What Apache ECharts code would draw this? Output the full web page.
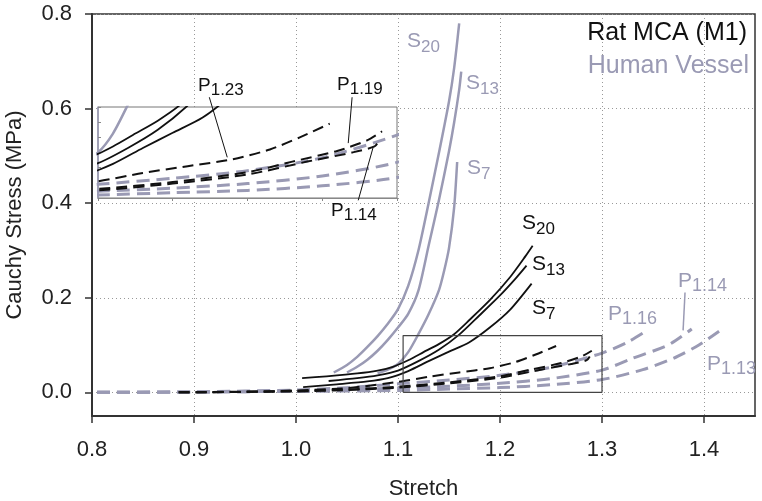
<!DOCTYPE html>
<html><head><meta charset="utf-8">
<script src="https://cdn.jsdelivr.net/npm/echarts@6/dist/echarts.min.js"></script>
<style>html,body{margin:0;padding:0;background:#fff}#c{width:762px;height:501px}</style>
</head><body><div id="c"></div>
<script>
// ---- Data (stretch, Cauchy stress MPa) ----
const humanS20 = [[1.037,0.042],[1.05,0.058],[1.06,0.075],[1.07,0.096],[1.08,0.119],[1.09,0.145],[1.1,0.176],[1.11,0.225],[1.12,0.300],[1.13,0.400],[1.14,0.505],[1.15,0.615],[1.155,0.685],[1.16,0.780]];
const humanS13 = [[1.050,0.042],[1.06,0.054],[1.07,0.069],[1.08,0.088],[1.09,0.111],[1.1,0.137],[1.11,0.166],[1.12,0.215],[1.13,0.310],[1.14,0.405],[1.15,0.510],[1.155,0.570],[1.16,0.640],[1.162,0.678]];
const humanS7  = [[1.080,0.040],[1.09,0.048],[1.1,0.060],[1.11,0.085],[1.12,0.123],[1.13,0.165],[1.14,0.215],[1.145,0.255],[1.15,0.305],[1.155,0.390],[1.158,0.487]];
const ratS20 = [[1.006,0.030],[1.03,0.034],[1.06,0.040],[1.08,0.046],[1.095,0.054],[1.11,0.068],[1.125,0.085],[1.14,0.102],[1.155,0.123],[1.17,0.153],[1.19,0.195],[1.21,0.244],[1.225,0.288],[1.232,0.310]];
const ratS13 = [[1.032,0.024],[1.06,0.030],[1.08,0.036],[1.1,0.046],[1.12,0.066],[1.14,0.090],[1.16,0.122],[1.18,0.163],[1.2,0.205],[1.215,0.240],[1.226,0.268]];
const ratS7  = [[1.007,0.011],[1.04,0.017],[1.07,0.023],[1.09,0.030],[1.11,0.045],[1.13,0.066],[1.15,0.086],[1.17,0.106],[1.19,0.137],[1.21,0.175],[1.231,0.230]];
const ratP123 = [[0.885,0.0],[0.95,0.001],[1.0,0.004],[1.05,0.009],[1.1,0.022],[1.13,0.033],[1.16,0.042],[1.19,0.051],[1.215,0.064],[1.235,0.080],[1.255,0.098]];
const ratP119 = [[0.885,0.0],[1.0,0.003],[1.05,0.006],[1.1,0.012],[1.15,0.021],[1.2,0.034],[1.23,0.048],[1.26,0.062],[1.28,0.076],[1.29,0.088]];
const ratP114 = [[0.885,0.0],[1.0,0.002],[1.05,0.005],[1.1,0.010],[1.15,0.019],[1.2,0.031],[1.24,0.048],[1.27,0.060],[1.285,0.068],[1.288,0.076]];
const humanP116 = [[0.805,0.0],[0.9,0.001],[1.0,0.005],[1.05,0.010],[1.1,0.018],[1.15,0.026],[1.2,0.036],[1.25,0.053],[1.3,0.083],[1.325,0.106],[1.345,0.132]];
const humanP114 = [[0.805,0.0],[0.9,0.0005],[1.0,0.003],[1.1,0.009],[1.15,0.013],[1.2,0.019],[1.25,0.029],[1.3,0.047],[1.33,0.072],[1.365,0.100],[1.388,0.134]];
const humanP113 = [[0.805,0.0],[1.0,0.002],[1.1,0.004],[1.15,0.007],[1.2,0.010],[1.25,0.016],[1.3,0.027],[1.34,0.048],[1.37,0.072],[1.395,0.100],[1.416,0.131]];
// zoom box (main axes) and label leader lines
const zoomBox = [[1.105,0.0],[1.3,0.0],[1.3,0.12],[1.105,0.12],[1.105,0.0]];
const leaderP123 = [[0.915,0.624],[0.9326,0.497]];
const leaderP119 = [[1.055,0.624],[1.0512,0.527]];
const leaderRatP114 = [[1.061,0.406],[1.0756,0.518]];
const leaderHumP114 = [[1.3814,0.211],[1.3795,0.131]];
const xTicks = [0.8,0.9,1.0,1.1,1.2,1.3,1.4];
const yTicks = [0.0,0.2,0.4,0.6,0.8];
const insetXTicks = [1.1,1.15,1.2,1.25,1.3];
const insetYTicks = [0,0.02,0.04,0.06,0.08,0.1,0.12];

const FONT = '"Liberation Sans", Arial, Helvetica, sans-serif';
const GRAY = '#9a9ab4';
const BLACK = '#111';

const curves = [
  {d: humanS20, c: GRAY, w: 2.5, t: 'solid'},
  {d: humanS13, c: GRAY, w: 2.5, t: 'solid'},
  {d: humanS7,  c: GRAY, w: 2.5, t: 'solid'},
  {d: humanP116, c: GRAY, w: 3, t: [13,7]},
  {d: humanP114, c: GRAY, w: 3, t: [13,7]},
  {d: humanP113, c: GRAY, w: 3, t: [13,7]},
  {d: ratS20, c: BLACK, w: 1.8, t: 'solid'},
  {d: ratS13, c: BLACK, w: 1.8, t: 'solid'},
  {d: ratS7,  c: BLACK, w: 1.8, t: 'solid'},
  {d: ratP123, c: BLACK, w: 2, t: [11,6]},
  {d: ratP119, c: BLACK, w: 2, t: [11,6]},
  {d: ratP114, c: BLACK, w: 2, t: [11,6]},
];

const series = [];
curves.forEach(cv => {
  [0,1].forEach(i => {
    series.push({
      type: 'line', xAxisIndex: i, yAxisIndex: i, data: cv.d,
      showSymbol: false, smooth: 0.25, clip: true,
      z: i ? 4 : 2, silent: true,
      lineStyle: {color: cv.c, width: cv.w, type: cv.t, cap: 'butt', join: 'round'}
    });
  });
});
series.push({type:'line', xAxisIndex:0, yAxisIndex:0, data: zoomBox, showSymbol:false, z:3, silent:true,
  lineStyle:{color:'#444', width:1.2}});
[leaderP123, leaderP119, leaderRatP114].forEach(l => series.push({type:'line', xAxisIndex:0, yAxisIndex:0, data:l,
  showSymbol:false, z:10, silent:true, lineStyle:{color:'#111', width:1}}));
series.push({type:'line', xAxisIndex:0, yAxisIndex:0, data:leaderHumP114, showSymbol:false, z:10, silent:true,
  lineStyle:{color:GRAY, width:1.5}});

const chart = echarts.init(document.getElementById('c'), null, {renderer:'canvas'});

const cnv = document.createElement('canvas').getContext('2d');
function tw(s, size){ cnv.font = size + 'px ' + FONT; return cnv.measureText(s).width; }
function subLabel(x, y, main, sub, color, fm, fs, dy){
  const w = tw(main, fm);
  return [
    {type:'text', x:x, y:y, z:20, style:{text:main, fill:color, font: fm+'px '+FONT, verticalAlign:'middle'}},
    {type:'text', x:x+w, y:y+dy, z:20, style:{text:sub, fill:color, font: fs+'px '+FONT, verticalAlign:'middle'}}
  ];
}
const graphics = [].concat(
  subLabel(407, 41, 'S', '20', GRAY, 21, 17, 6),
  subLabel(466, 83, 'S', '13', GRAY, 21, 17, 6),
  subLabel(467, 168, 'S', '7', GRAY, 21, 17, 6),
  subLabel(522, 223, 'S', '20', BLACK, 21, 17, 6),
  subLabel(532, 264, 'S', '13', BLACK, 21, 17, 6),
  subLabel(532, 308, 'S', '7', BLACK, 21, 17, 6),
  subLabel(608, 314, 'P', '1.16', GRAY, 21, 18, 5),
  subLabel(678, 281, 'P', '1.14', GRAY, 21, 18, 5),
  subLabel(707, 364, 'P', '1.13', GRAY, 21, 18, 5),
  subLabel(198, 86, 'P', '1.23', BLACK, 19, 17, 4),
  subLabel(337, 85, 'P', '1.19', BLACK, 19, 17, 4),
  subLabel(331, 211, 'P', '1.14', BLACK, 19, 17, 4),
  [
    {type:'text', right: 15, top: 21, z:20, style:{text:'Rat MCA (M1)', fill:'#111', font:'25px '+FONT}},
    {type:'text', right: 13, top: 54, z:20, style:{text:'Human Vessel', fill:GRAY, font:'25px '+FONT}}
  ]
);

const option = {
  animation: false,
  backgroundColor: '#fff',
  grid: [
    {left: 92, top: 14, width: 663, height: 402, outerBoundsMode: 'none', containLabel: false, show: true, borderColor: '#333', borderWidth: 1.5, backgroundColor: 'transparent', z: 0},
    {left: 98, top: 107, width: 299, height: 91, outerBoundsMode: 'none', containLabel: false, show: true, borderColor: '#777', borderWidth: 1, backgroundColor: '#fff', z: 1}
  ],
  xAxis: [
    {type:'value', gridIndex:0, min:0.8, max:1.45,
     name:'Stretch', nameLocation:'middle', nameGap:62,
     nameTextStyle:{fontFamily:FONT, fontSize:22, color:'#222'},
     axisLine:{show:true, onZero:false, lineStyle:{color:'#333', width:2}},
     axisTick:{show:true, length:7, customValues: xTicks, lineStyle:{color:'#333', width:1.5}},
     axisLabel:{customValues: xTicks, margin:23, fontFamily:FONT, fontSize:22, color:'#222', formatter: v => v.toFixed(1)},
     splitLine:{show:true, lineStyle:{color:'#999', type:[1,3], width:1}}},
    {type:'value', gridIndex:1, min:1.1, max:1.3, z:2,
     axisLine:{show:true, onZero:false, lineStyle:{color:'#888', width:1}},
     axisTick:{show:true, length:3, customValues: insetXTicks, lineStyle:{color:'#888'}},
     axisLabel:{show:false}, splitLine:{show:false}}
  ],
  yAxis: [
    {type:'value', gridIndex:0, min:-0.05, max:0.8,
     name:'Cauchy Stress (MPa)', nameLocation:'middle', nameGap:66,
     nameTextStyle:{fontFamily:FONT, fontSize:22, color:'#222'},
     axisLine:{show:true, onZero:false, lineStyle:{color:'#333', width:2}},
     axisTick:{show:true, length:7, customValues: yTicks, lineStyle:{color:'#333', width:1.5}},
     axisLabel:{customValues: yTicks, margin:20, fontFamily:FONT, fontSize:22, color:'#222', formatter: v => v.toFixed(1)},
     splitLine:{show:true, lineStyle:{color:'#999', type:[1,3], width:1}}},
    {type:'value', gridIndex:1, min:0, max:0.12, z:2,
     axisLine:{show:true, onZero:false, lineStyle:{color:'#9a9ab4', width:1.5}},
     axisTick:{show:true, inside:true, length:3, customValues: insetYTicks, lineStyle:{color:'#888'}},
     axisLabel:{show:false}, splitLine:{show:false}}
  ],
  series: series,
  graphic: graphics
};
chart.setOption(option);
</script>
</body></html>
